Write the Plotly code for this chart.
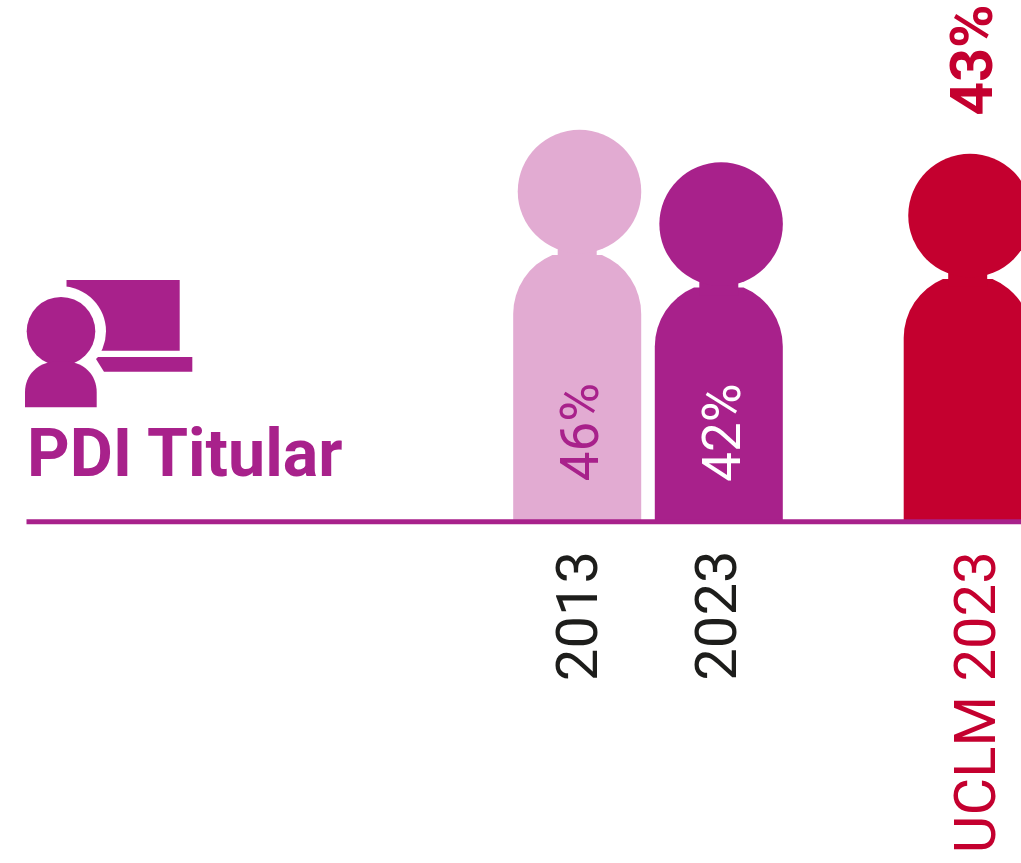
import plotly.graph_objects as go

# ---------- data ----------
categories = ["2013", "2023", "UCLM 2023"]
share_labels = ["46%", "42%", "43%"]
person_heights = [46.13, 42.29, 43.3]      # read from the silhouettes' total height
x_positions = [577.2, 718.8, 967.7]

# ---------- style ----------
W, H = 1021, 863
PX_PER_UNIT = 8.5
BASE_PX = 521.8
PINK, PURPLE, RED, INK = "#E2ABD2", "#A8218B", "#C4002F", "#1D1D1B"
person_colors = [PINK, PURPLE, RED]
label_colors = [INK, INK, RED]
share_colors = [PURPLE, "#FFFFFF", RED]
FONT = "Roboto"

HEAD_D = 123.5
BODY_W = 128
NECK_W = 39
HEAD_OFFSET = 2.3
head_span = HEAD_D / PX_PER_UNIT
body_tops = [h - head_span - 0.2 for h in person_heights]
head_centers = [h - head_span / 2 for h in person_heights]

fig = go.Figure()
fig.add_trace(go.Bar(x=x_positions, y=body_tops, width=BODY_W,
                     marker=dict(color=person_colors, cornerradius=64, line_width=0),
                     showlegend=False, hoverinfo="skip"))
fig.add_trace(go.Bar(x=x_positions, y=[1.6] * 3, base=[t - 0.9 for t in body_tops], width=NECK_W,
                     marker=dict(color=person_colors, line_width=0),
                     showlegend=False, hoverinfo="skip"))
fig.add_trace(go.Scatter(x=[v + HEAD_OFFSET for v in x_positions], y=head_centers, mode="markers",
                         marker=dict(size=HEAD_D, color=person_colors, line_width=0),
                         showlegend=False, hoverinfo="skip"))
# baseline drawn above the figures
fig.add_trace(go.Scatter(x=[26.5, W], y=[0, 0], mode="lines",
                         line=dict(color=PURPLE, width=5),
                         showlegend=False, hoverinfo="skip"))

def px(x):
    return x / W

def py(y):
    return 1 - y / H

label_dx = [0, -3, 7.5]
label_cy = [616, 616, 702]
share_dx = [2.5, 2.5, 3]
share_cy = [432.5, 432.5, 60]
share_weight = [400, 400, 700]
share_size = [53, 53, 59]

annotations = []
for i, cat in enumerate(categories):
    annotations.append(dict(x=x_positions[i] + label_dx[i], y=(BASE_PX - label_cy[i]) / PX_PER_UNIT,
                            xref="x", yref="y", text=cat, textangle=-90, showarrow=False,
                            font=dict(family=FONT, size=58, color=label_colors[i], weight=400)))
    annotations.append(dict(x=x_positions[i] + share_dx[i], y=(BASE_PX - share_cy[i]) / PX_PER_UNIT,
                            xref="x", yref="y", text=share_labels[i], textangle=-90, showarrow=False,
                            font=dict(family=FONT, size=share_size[i], color=share_colors[i], weight=share_weight[i])))
annotations.append(dict(x=px(25), y=py(453), xref="paper", yref="paper", xanchor="left", yanchor="middle",
                        text="PDI Titular", showarrow=False,
                        font=dict(family=FONT, size=66.3, color=PURPLE, weight=700)))

def circle(cx, cy, r, color):
    return dict(type="circle", xref="paper", yref="paper", x0=px(cx - r), x1=px(cx + r),
                y0=py(cy + r), y1=py(cy - r), fillcolor=color, line_width=0, layer="above")

def path(points, color):
    d = ""
    for seg in points:
        cmd, coords = seg[0], seg[1:]
        d += cmd + " " + " ".join(f"{px(coords[j]):.5f},{py(coords[j + 1]):.5f}" for j in range(0, len(coords), 2)) + " "
    return dict(type="path", xref="paper", yref="paper", path=d + "Z", fillcolor=color, line_width=0, layer="above")

icon = [
    path([("M", 66.3, 280), ("L", 179.7, 280), ("L", 179.7, 350.7), ("L", 66.3, 350.7)], PURPLE),
    circle(61, 331.3, 45, "#FFFFFF"),
    dict(type="rect", xref="paper", yref="paper", x0=px(50), x1=px(66.3), y0=py(300), y1=py(279),
         fillcolor="#FFFFFF", line_width=0, layer="above"),
    path([("M", 96, 359), ("L", 98, 357), ("L", 192.3, 357), ("L", 192.3, 371.7), ("L", 104, 371.7)], PURPLE),
    circle(61, 331.3, 34.3, PURPLE),
    path([("M", 25, 407.3), ("L", 25, 392), ("C", 25, 375, 38, 362, 55, 361.7), ("L", 67, 361.7),
          ("C", 84, 362, 96.7, 375, 96.7, 392), ("L", 96.7, 407.3)], PURPLE),
]

fig.update_layout(
    width=W, height=H, margin=dict(l=0, r=0, t=0, b=0),
    paper_bgcolor="white", plot_bgcolor="white",
    barmode="overlay", showlegend=False,
    xaxis=dict(range=[0, W], visible=False, fixedrange=True),
    yaxis=dict(range=[-(H - BASE_PX) / PX_PER_UNIT, BASE_PX / PX_PER_UNIT], visible=False, fixedrange=True),
    annotations=annotations, shapes=icon,
)
fig.write_html("out.html", config=dict(displayModeBar=False),
               post_script="document.body.style.margin='0';document.body.style.overflow='hidden';")
